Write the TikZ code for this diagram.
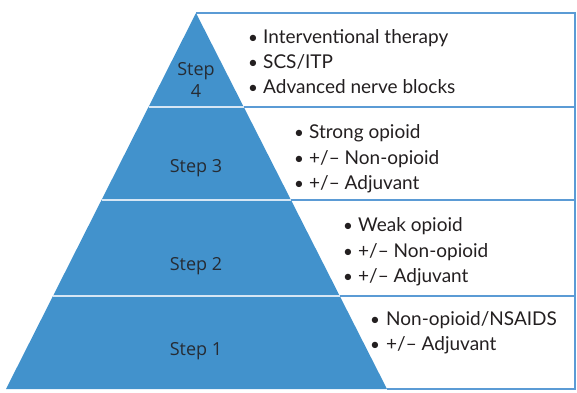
\documentclass[tikz,border=0pt]{standalone}
\usepackage{fontspec}
\setmainfont{Lato}
\newfontfamily\stepfont{Open Sans}
\definecolor{pyrblue}{RGB}{66,146,204}
\definecolor{rulblue}{RGB}{91,155,213}
\definecolor{sepline}{RGB}{214,230,244}
\definecolor{ink}{RGB}{35,31,32}
\definecolor{stepink}{RGB}{38,44,52}
\begin{document}
\begin{tikzpicture}[x=1pt,y=-1pt,
  steplabel/.style={font=\stepfont\fontsize{18}{22}\selectfont, text=stepink, anchor=base, inner sep=0pt},
  item/.style={font=\fontsize{19}{22}\selectfont, text=ink, anchor=base west, inner sep=0pt},
  bul/.style={font=\fontsize{17}{20}\selectfont, text=ink, anchor=base, inner sep=0pt},
  boxline/.style={draw=rulblue, line width=1.3pt},
  gap/.style={draw=sepline, line width=1.8pt}]
\useasboundingbox (0,0) rectangle (577,392);

% pyramid corners and tier edges
\coordinate (apex) at (196,13);
\coordinate (bl) at (6,389);
\coordinate (br) at (387,389);
\coordinate (l1) at (148.5,107);  \coordinate (r1) at (243.7,107);
\coordinate (l2) at (101.5,200);  \coordinate (r2) at (291,200);
\coordinate (l3) at (53,296);     \coordinate (r3) at (339.8,296);

% text panel to the right
\coordinate (ptl) at (196,13);
\coordinate (ptr) at (575,13);
\coordinate (pbr) at (575,389);
\coordinate (p1) at (575,107);
\coordinate (p2) at (575,200);
\coordinate (p3) at (575,296);
\draw[boxline] (ptl) -- (ptr) -- (pbr) -- (br);
\draw[boxline] (r1) -- (p1);
\draw[boxline] (r2) -- (p2);
\draw[boxline] (r3) -- (p3);

% pyramid
\fill[pyrblue] (apex) -- (bl) -- (br) -- cycle;
\draw[gap] (l1) -- (r1);
\draw[gap] (l2) -- (r2);
\draw[gap] (l3) -- (r3);

% tier labels
\node[steplabel] (s4a) at (196,75) {Step};
\node[steplabel] (s4b) at (196,97) {4};
\node[steplabel] (s3) at (196,172) {Step 3};
\node[steplabel] (s2) at (196,270) {Step 2};
\node[steplabel] (s1) at (196,355) {Step 1};

% step 4 items
\node[bul]  (b41) at (253,43) {\textbullet};
\node[item] (t41) at (263,43) {Interventional therapy};
\node[bul]  (b42) at (253,68) {\textbullet};
\node[item] (t42) at (263,68) {SCS/ITP};
\node[bul]  (b43) at (253,93) {\textbullet};
\node[item] (t43) at (263,93) {Advanced nerve blocks};

% step 3 items
\node[bul]  (b31) at (299,138) {\textbullet};
\node[item] (t31) at (309,138) {Strong opioid};
\node[bul]  (b32) at (299,164) {\textbullet};
\node[item] (t32) at (309,164) {+/– Non-opioid};
\node[bul]  (b33) at (299,189) {\textbullet};
\node[item] (t33) at (309,189) {+/– Adjuvant};

% step 2 items
\node[bul]  (b21) at (348,231) {\textbullet};
\node[item] (t21) at (358,231) {Weak opioid};
\node[bul]  (b22) at (348,257) {\textbullet};
\node[item] (t22) at (358,257) {+/– Non-opioid};
\node[bul]  (b23) at (348,282) {\textbullet};
\node[item] (t23) at (358,282) {+/– Adjuvant};

% step 1 items
\node[bul]  (b11) at (375,325) {\textbullet};
\node[item] (t11) at (386,325) {Non-opioid/NSAIDS};
\node[bul]  (b12) at (375,350) {\textbullet};
\node[item] (t12) at (386,350) {+/– Adjuvant};
\end{tikzpicture}
\end{document}
